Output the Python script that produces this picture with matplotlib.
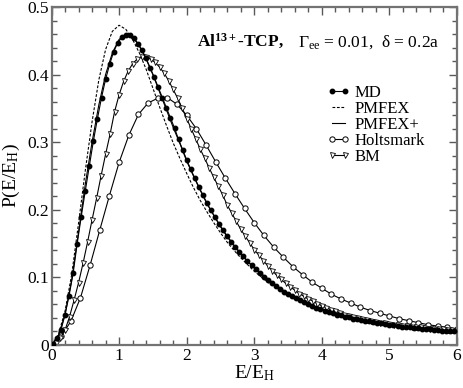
import matplotlib
matplotlib.use("Agg")
import matplotlib.pyplot as plt

# electric microfield distributions
md_E = [0.02, 0.08, 0.14, 0.20, 0.26, 0.32, 0.38, 0.44, 0.50, 0.56,
        0.62, 0.68, 0.74, 0.80, 0.86, 0.92, 0.98, 1.04, 1.10, 1.16,
        1.22, 1.28, 1.34, 1.40, 1.46, 1.52, 1.58, 1.64, 1.70, 1.76,
        1.82, 1.88, 1.94, 2.00, 2.06, 2.12, 2.18, 2.24, 2.30, 2.36,
        2.42, 2.48, 2.54, 2.60, 2.66, 2.72, 2.78, 2.84, 2.90, 2.96,
        3.02, 3.08, 3.14, 3.20, 3.26, 3.32, 3.38, 3.44, 3.50, 3.56,
        3.62, 3.68, 3.74, 3.80, 3.86, 3.92, 3.98, 4.04, 4.10, 4.16,
        4.22, 4.28, 4.34, 4.40, 4.46, 4.52, 4.58, 4.64, 4.70, 4.76,
        4.82, 4.88, 4.94, 5.00, 5.06, 5.12, 5.18, 5.24, 5.30, 5.36,
        5.42, 5.48, 5.54, 5.60, 5.66, 5.72, 5.78, 5.84, 5.90, 5.96]
md_P = [0.002, 0.010, 0.022, 0.045, 0.073, 0.106, 0.150, 0.190, 0.228, 0.265,
        0.302, 0.335, 0.366, 0.393, 0.415, 0.434, 0.447, 0.455, 0.458, 0.458,
        0.454, 0.446, 0.436, 0.424, 0.410, 0.396, 0.381, 0.366, 0.351, 0.336,
        0.321, 0.304, 0.289, 0.274, 0.260, 0.247, 0.234, 0.222, 0.210, 0.199,
        0.189, 0.179, 0.170, 0.161, 0.153, 0.145, 0.138, 0.131, 0.124, 0.118,
        0.112, 0.106, 0.101, 0.096, 0.091, 0.087, 0.083, 0.079, 0.075, 0.072,
        0.069, 0.066, 0.063, 0.060, 0.058, 0.055, 0.053, 0.051, 0.049, 0.047,
        0.045, 0.044, 0.042, 0.041, 0.039, 0.038, 0.037, 0.036, 0.035, 0.034,
        0.033, 0.032, 0.031, 0.030, 0.029, 0.028, 0.027, 0.027, 0.026, 0.025,
        0.025, 0.024, 0.023, 0.023, 0.022, 0.022, 0.021, 0.021, 0.020, 0.020]

th_E = [0.0, 0.1, 0.2, 0.3, 0.4, 0.5, 0.6, 0.7, 0.8, 0.9,
        1.0, 1.1, 1.2, 1.3, 1.4, 1.5, 1.6, 1.7, 1.8, 1.9,
        2.0, 2.1, 2.2, 2.3, 2.4, 2.5, 2.6, 2.7, 2.8, 2.9,
        3.0, 3.1, 3.2, 3.3, 3.4, 3.5, 3.6, 3.7, 3.8, 3.9,
        4.0, 4.1, 4.2, 4.3, 4.4, 4.5, 4.6, 4.7, 4.8, 4.9,
        5.0, 5.1, 5.2, 5.3, 5.4, 5.5, 5.6, 5.7, 5.8, 5.9, 6.0]
pmfex_P = [0.000, 0.015, 0.050, 0.105, 0.180, 0.258, 0.330, 0.392, 0.437, 0.464,
           0.473, 0.467, 0.452, 0.432, 0.408, 0.380, 0.352, 0.325, 0.299, 0.276,
           0.254, 0.233, 0.214, 0.197, 0.181, 0.166, 0.152, 0.140, 0.129, 0.119,
           0.109, 0.101, 0.093, 0.086, 0.080, 0.074, 0.069, 0.064, 0.060, 0.056,
           0.052, 0.049, 0.046, 0.043, 0.041, 0.039, 0.037, 0.035, 0.033, 0.031,
           0.030, 0.029, 0.027, 0.026, 0.025, 0.024, 0.023, 0.022, 0.021, 0.020, 0.019]
pmfexp_P = [0.000, 0.013, 0.045, 0.097, 0.167, 0.238, 0.300, 0.355, 0.400, 0.432,
            0.452, 0.460, 0.456, 0.442, 0.423, 0.400, 0.374, 0.348, 0.322, 0.298,
            0.272, 0.250, 0.229, 0.209, 0.192, 0.175, 0.160, 0.147, 0.135, 0.124,
            0.114, 0.106, 0.098, 0.090, 0.083, 0.076, 0.071, 0.065, 0.061, 0.056,
            0.053, 0.049, 0.046, 0.043, 0.041, 0.039, 0.037, 0.035, 0.033, 0.031,
            0.030, 0.029, 0.028, 0.026, 0.025, 0.024, 0.023, 0.022, 0.021, 0.021, 0.020]

holt_E = [0.000, 0.143, 0.286, 0.429, 0.571, 0.714, 0.857, 1.000, 1.143, 1.286,
          1.429, 1.571, 1.714, 1.857, 2.000, 2.143, 2.286, 2.429, 2.571, 2.714,
          2.857, 3.000, 3.143, 3.286, 3.429, 3.571, 3.714, 3.857, 4.000, 4.143,
          4.286, 4.429, 4.571, 4.714, 4.857, 5.000, 5.143, 5.286, 5.429, 5.571,
          5.714, 5.857, 6.000]
holt_P = [0.000, 0.013, 0.035, 0.070, 0.118, 0.170, 0.221, 0.270, 0.310, 0.341,
          0.358, 0.365, 0.366, 0.356, 0.340, 0.320, 0.296, 0.271, 0.247, 0.224,
          0.202, 0.181, 0.162, 0.145, 0.130, 0.116, 0.104, 0.093, 0.084, 0.075,
          0.068, 0.062, 0.056, 0.051, 0.047, 0.043, 0.039, 0.036, 0.033, 0.030,
          0.028, 0.026, 0.024]

bm_E = [0.000, 0.067, 0.133, 0.200, 0.267, 0.333, 0.400, 0.467, 0.533, 0.600,
        0.667, 0.733, 0.800, 0.867, 0.933, 1.000, 1.067, 1.133, 1.200, 1.267,
        1.333, 1.400, 1.467, 1.533, 1.600, 1.667, 1.733, 1.800, 1.867, 1.933,
        2.000, 2.067, 2.133, 2.200, 2.267, 2.333, 2.400, 2.467, 2.533, 2.600,
        2.667, 2.733, 2.800, 2.867, 2.933, 3.000, 3.067, 3.133, 3.200, 3.267,
        3.333, 3.400, 3.467, 3.533, 3.600, 3.667, 3.733, 3.800, 3.867, 3.933,
        4.000, 4.067, 4.133, 4.200, 4.267, 4.333, 4.400, 4.467, 4.533, 4.600,
        4.667, 4.733, 4.800, 4.867, 4.933, 5.000, 5.067, 5.133, 5.200, 5.267,
        5.333, 5.400, 5.467, 5.533, 5.600, 5.667, 5.733, 5.800, 5.867, 5.933, 6.000]
bm_P = [0.000, 0.003, 0.010, 0.022, 0.042, 0.066, 0.092, 0.121, 0.152, 0.185,
        0.217, 0.250, 0.282, 0.312, 0.345, 0.370, 0.390, 0.405, 0.416, 0.423,
        0.426, 0.426, 0.423, 0.418, 0.411, 0.402, 0.391, 0.378, 0.365, 0.350,
        0.335, 0.320, 0.305, 0.290, 0.276, 0.262, 0.248, 0.235, 0.222, 0.207,
        0.195, 0.183, 0.171, 0.161, 0.151, 0.141, 0.133, 0.125, 0.117, 0.110,
        0.103, 0.097, 0.091, 0.086, 0.081, 0.076, 0.072, 0.068, 0.065, 0.061,
        0.058, 0.055, 0.052, 0.050, 0.047, 0.045, 0.043, 0.041, 0.040, 0.038,
        0.037, 0.035, 0.034, 0.033, 0.032, 0.031, 0.030, 0.029, 0.028, 0.028,
        0.027, 0.026, 0.026, 0.025, 0.024, 0.024, 0.023, 0.023, 0.022, 0.022, 0.021]

x_ticks = [0, 1, 2, 3, 4, 5, 6]
y_ticks = [0, 0.1, 0.2, 0.3, 0.4, 0.5]
y_ticklabels = ["0", "0.1", "0.2", "0.3", "0.4", "0.5"]

plt.rcParams["font.family"] = ["Liberation Serif", "DejaVu Serif"]
plt.rcParams["mathtext.fontset"] = "custom"
plt.rcParams["mathtext.rm"] = "Liberation Serif"
plt.rcParams["mathtext.it"] = "Liberation Serif:italic"
plt.rcParams["mathtext.bf"] = "Liberation Serif:bold"

fig = plt.figure(figsize=(4.63, 3.88), dpi=100)
ax = fig.add_axes([51.5 / 463, 1 - 345 / 388, 405.5 / 463, 338 / 388])

lw = 0.8
ax.plot(md_E, md_P, "-", color="black", lw=lw, marker="o", ms=3.2,
        mfc="black", mec="black", label="MD", zorder=5)
ax.plot(th_E, pmfex_P, color="black", lw=lw, dashes=(2.5, 1.5), label="PMFEX")
ax.plot(th_E, pmfexp_P, "-", color="black", lw=lw, label="PMFEX+")
ax.plot(holt_E, holt_P, "-", color="black", lw=lw, marker="o", ms=3.8,
        mfc="white", mec="black", mew=0.7, label="Holtsmark")
ax.plot(bm_E, bm_P, "-", color="black", lw=lw, marker="v", ms=3.6,
        mfc="white", mec="black", mew=0.6, label="BM")

ax.set_xlim(0, 6)
ax.set_ylim(0, 0.5)
ax.set_xticks(x_ticks)
ax.set_yticks(y_ticks)
ax.set_yticklabels(y_ticklabels)
ax.set_xticks([i * 0.2 for i in range(31)], minor=True)
ax.set_yticks([i * 0.02 for i in range(26)], minor=True)
ax.tick_params(which="both", direction="in", top=True, right=True,
               labelsize=12.5, color="0.35", width=1.0, pad=2)
ax.tick_params(which="major", length=6)
ax.tick_params(which="minor", length=3.5)
for s in ax.spines.values():
    s.set_color("0.45")
    s.set_linewidth(1.6)

ax.set_xlabel(r"E/E$_{\rm H}$", fontsize=14, labelpad=0)
ax.set_ylabel(r"P(E/E$_{\rm H}$)", fontsize=14, labelpad=4)

ax.text(0.359, 0.882, r"$\mathbf{Al^{13+}}$-TCP,", transform=ax.transAxes,
        fontsize=12.5, fontweight="bold", va="baseline", ha="left")
ax.text(0.607, 0.882, "Γ$_{\\rm ee}$ = 0.01,  δ = 0.2a",
        transform=ax.transAxes, fontsize=12.5, va="baseline", ha="left")

ax.legend(loc="upper left", bbox_to_anchor=(0.679, 0.77), frameon=False,
          numpoints=2, handlelength=1.4, handletextpad=0.25, labelspacing=0.0,
          borderpad=0, borderaxespad=0, fontsize=12)

fig.savefig("out.png", dpi=100)
